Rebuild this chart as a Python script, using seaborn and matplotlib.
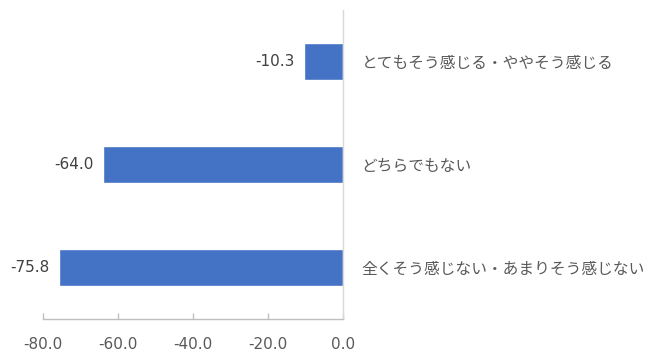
import matplotlib
matplotlib.use("Agg")
import matplotlib.pyplot as plt
import seaborn as sns
import pandas as pd

categories = ["とてもそう感じる・ややそう感じる", "どちらでもない", "全くそう感じない・あまりそう感じない"]
values = [-10.3, -64.0, -75.8]
xticks = [-80, -60, -40, -20, 0]

sns.set_theme(style="white")
plt.rcParams['font.family'] = ['Noto Sans CJK JP', 'DejaVu Sans']

df = pd.DataFrame({"cat": categories, "val": values})

fig = plt.figure(figsize=(6.5, 3.59), dpi=100)
ax = fig.add_axes([43/650, 1 - 319/359, 300/650, 309/359])

sns.barplot(data=df, y="cat", x="val", orient="h", color="#4472C4",
            saturation=1, width=0.35, ax=ax)

ax.set_xlim(-80, 0)
ax.set_xticks(xticks)
ax.set_xticklabels([f"{t:.1f}" for t in xticks], family="DejaVu Sans")
ax.set_xlabel("")
ax.set_ylabel("")

ax.yaxis.tick_right()
ax.tick_params(axis="y", length=0, pad=13.5, labelsize=11.3, labelcolor="#595959")
ax.tick_params(axis="x", direction="in", length=4, width=1, color="#bfbfbf",
               pad=13, labelsize=11, labelcolor="#595959", bottom=True)

for s in ["top", "left"]:
    ax.spines[s].set_visible(False)
ax.spines["bottom"].set_color("#bfbfbf")
ax.spines["right"].set_color("#d9d9d9")
ax.spines["bottom"].set_linewidth(1)
ax.spines["right"].set_linewidth(1)

for c in ax.containers:
    ax.bar_label(c, fmt="%.1f", padding=7, fontsize=11, color="#404040",
                 family="DejaVu Sans")

fig.savefig("out.png", dpi=100)
